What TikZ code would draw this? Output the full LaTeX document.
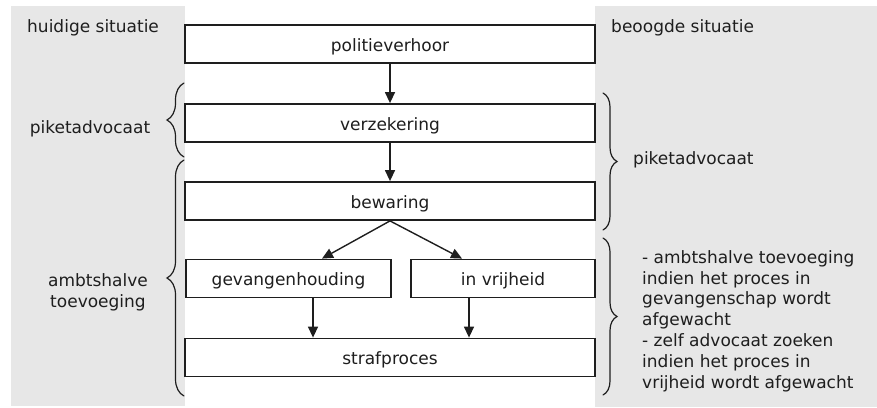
\documentclass[tikz,border=0pt]{standalone}
\usepackage{fontspec}
\setmainfont{DejaVu Sans}
\usetikzlibrary{arrows.meta,decorations.pathreplacing}
\definecolor{panel}{RGB}{231,231,231}
\definecolor{ink}{RGB}{30,30,30}
\begin{document}
\begin{tikzpicture}[x=1pt,y=-1pt,
  every node/.style={font=\fontsize{17}{20.8}\selectfont, text=ink},
  stepbox/.style={draw=ink, line width=1.8pt, fill=white, minimum height=38pt, inner sep=0pt, text height=14pt, text depth=0pt},
  flow/.style={draw=ink, line width=1.4pt, -{Triangle[width=10pt,length=11pt]}},
  bracel/.style={draw=ink, line width=1.2pt, line cap=round, decorate, decoration={brace, amplitude=17pt}},
  bracer/.style={draw=ink, line width=1.2pt, line cap=round, decorate, decoration={brace, amplitude=14pt}},
  side/.style={inner sep=0pt}
]
\useasboundingbox (0,0) rectangle (877,407);
\fill[panel] (11,6) rectangle (185,406);
\fill[panel] (595,6) rectangle (877,407);

% boxes
\node[stepbox, minimum width=410pt] (p) at (390,44) {politieverhoor};
\node[stepbox, minimum width=410pt] (v) at (390,123) {verzekering};
\node[stepbox, minimum width=410pt] (b) at (390,201) {bewaring};
\node[stepbox, minimum width=205pt] (g) at (288.5,278.5) {gevangenhouding};
\node[stepbox, minimum width=184pt] (i) at (503,278.5) {in vrijheid};
\node[stepbox, minimum width=410pt] (s) at (390,357.5) {strafproces};

% connectors
\draw[flow] (p.south) -- (v.north);
\draw[flow] (v.south) -- (b.north);
\draw[flow] (b.south) -- ([xshift=33.5pt]g.north);
\draw[flow] (b.south) -- ([xshift=-41pt]i.north);
\draw[flow] ([xshift=24.5pt]g.south) -- ([xshift=24.5pt]g.south |- s.north);
\draw[flow] ([xshift=-34pt]i.south) -- ([xshift=-34pt]i.south |- s.north);

% braces
\draw[bracel] (184,157) -- (184,83);
\draw[bracel] (184,396) -- (184,160);
\draw[bracer] (603,93) -- (603,230);
\draw[bracer] (603,238) -- (603,395);

% side texts
\node[side, anchor=base west] (hs) at (27,32) {huidige situatie};
\node[side, anchor=base west] (bs) at (611,32) {beoogde situatie};
\node[side, anchor=base] (pl) at (90,133) {piketadvocaat};
\node[side, align=center] (at) at (98,292) {ambtshalve\\toevoeging};
\node[side, anchor=base west] (pr) at (633,164) {piketadvocaat};
\node[side, align=left, anchor=west] (rt) at (642,321) {- ambtshalve toevoeging\\indien het proces in\\gevangenschap wordt\\afgewacht\\- zelf advocaat zoeken\\indien het proces in\\vrijheid wordt afgewacht};
\end{tikzpicture}
\end{document}
